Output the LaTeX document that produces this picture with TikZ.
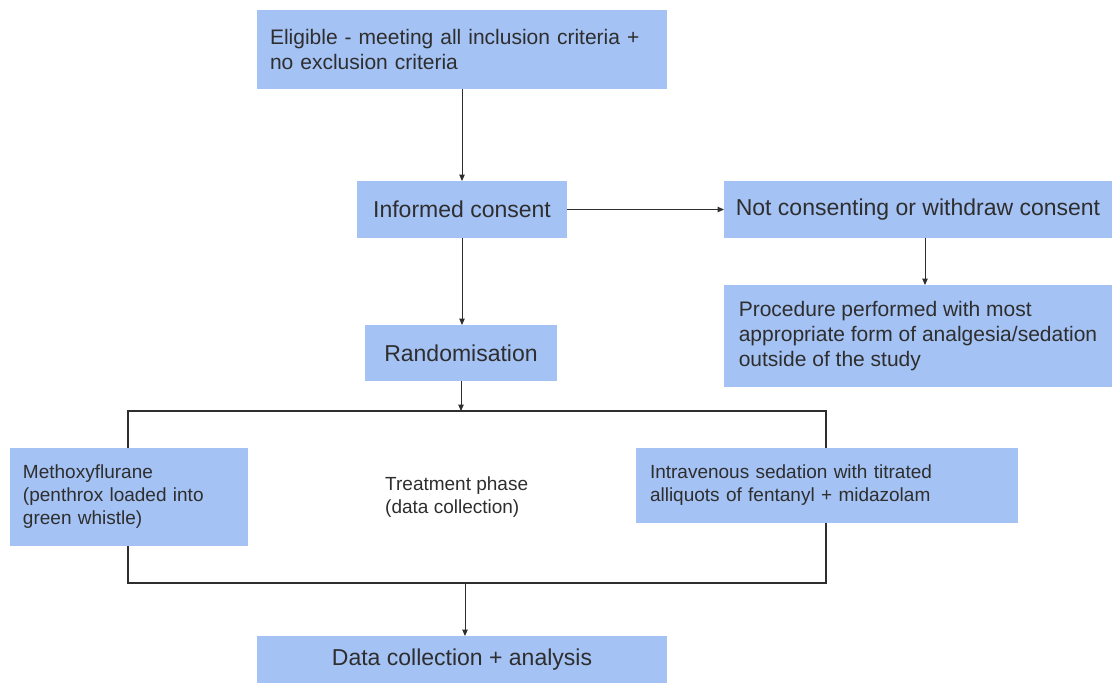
\documentclass[tikz,border=0pt]{standalone}
\usepackage{fontspec}
\setmainfont{Liberation Sans}
\usetikzlibrary{arrows.meta}
\definecolor{boxblue}{HTML}{A4C2F4}
\definecolor{ink}{HTML}{2E2E2E}
\newcommand{\FontBig}{\fontsize{23}{27}\selectfont}
\newcommand{\FontMid}{\fontsize{21}{25}\selectfont}
\newcommand{\FontSmall}{\fontsize{19}{23}\selectfont}
\begin{document}
\begin{tikzpicture}[x=1pt,y=-1pt,
  box/.style={fill=boxblue, draw=none, text=ink, inner ysep=0pt, outer sep=0pt, anchor=north west},
  arr/.style={draw=ink, line width=1pt, -{Triangle[length=6.5pt,width=5.5pt]}},
  frame/.style={draw=ink, line width=1.1pt, fill=none, inner sep=0pt, outer sep=0pt, anchor=north west}]
\useasboundingbox (0,0) rectangle (1112,683);
% treatment frame
\node[frame, minimum width=698, minimum height=172] (big) at (128,411) {};
% boxes
\node[box, minimum width=410, minimum height=79, inner xsep=13, text width=384, align=left, font=\FontMid] (elig) at (257,10)
  {Eligible - meeting all inclusion criteria +\\ no exclusion criteria};
\node[box, minimum width=210, minimum height=57, inner xsep=0, align=center, font=\FontBig] (ic) at (357,181) {Informed consent};
\node[box, minimum width=388, minimum height=57, inner xsep=0, align=center, font=\FontBig] (nc) at (724,181) {Not consenting or withdraw consent};
\node[box, minimum width=388, minimum height=102, inner xsep=14, align=left, font=\FontMid] (proc) at (724,285)
  {Procedure performed with most\\ appropriate form of analgesia/sedation\\ outside of the study};
\node[box, minimum width=192, minimum height=56, inner xsep=0, align=center, font=\FontBig] (rand) at (365,325) {Randomisation};
\node[box, minimum width=238, minimum height=98, inner xsep=13, text width=212, align=left, font=\FontSmall] (meth) at (10,448)
  {Methoxyflurane\\ (penthrox loaded into\\ green whistle)};
\node[box, minimum width=382, minimum height=75, inner xsep=14, text width=354, align=left, font=\FontSmall] (iv) at (636,448)
  {Intravenous sedation with titrated\\ alliquots of fentanyl + midazolam};
\node[text=ink, anchor=west, inner sep=0pt, align=left, font=\FontSmall] (tp) at (385,497)
  {Treatment phase\\ (data collection)};
\node[box, minimum width=410, minimum height=47, inner xsep=0, align=center, font=\FontBig] (dc) at (257,636) {Data collection + analysis};
% connectors
\draw[arr] (elig.south) -- (ic.north);
\draw[arr] (ic.east) -- (nc.west);
\draw[arr] ([xshift=7pt]nc.south) -- ([xshift=7pt]nc.south |- proc.north);
\draw[arr] (ic.south) -- (ic.south |- rand.north);
\draw[arr] (rand.south) -- (rand.south |- big.north);
\draw[arr] ([xshift=3pt]dc.north |- big.south) -- ([xshift=3pt]dc.north);
\end{tikzpicture}
\end{document}
